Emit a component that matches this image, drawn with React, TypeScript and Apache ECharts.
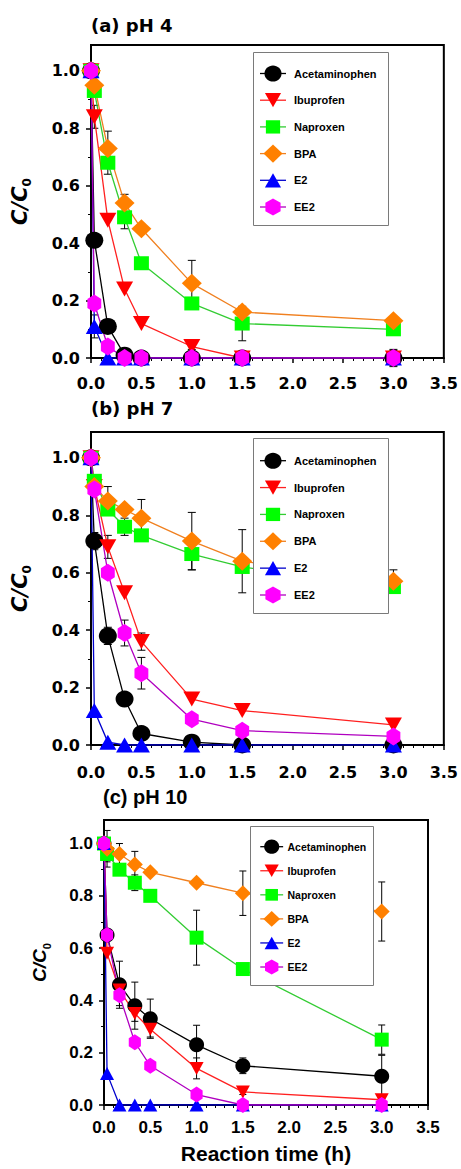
import React, { useEffect, useRef } from "react";
import * as echarts from "echarts";

// ---- data ----
const TIMES = [0, 0.033, 0.167, 0.333, 0.5, 1.0, 1.5, 3.0];
const COMPOUNDS = ["Acetaminophen", "Ibuprofen", "Naproxen", "BPA", "E2", "EE2"];
const PANEL_TITLES = ["(a) pH 4", "(b) pH 7", "(c) pH 10"];
const X_TITLE = "Reaction time (h)";
const Y_TICKS = [0, 0.2, 0.4, 0.6, 0.8, 1.0];
const Y_MINOR = [0.1, 0.3, 0.5, 0.7, 0.9];

// pH 4
const PH4_ACET = [1.0, 0.41, 0.11, 0.01, 0, 0, 0, 0];
const PH4_IBU = [1.0, 0.84, 0.48, 0.24, 0.12, 0.04, 0, 0];
const PH4_NAP = [1.0, 0.93, 0.68, 0.49, 0.33, 0.19, 0.12, 0.1];
const PH4_BPA = [1.0, 0.95, 0.73, 0.54, 0.45, 0.26, 0.16, 0.13];
const PH4_E2 = [1.0, 0.11, 0, 0, 0, 0, 0, 0];
const PH4_EE2 = [1.0, 0.19, 0.04, 0, 0, 0, 0, 0];
const PH4_ERR_ACET = [0, 0, 0.02, 0, 0, 0, 0, 0];
const PH4_ERR_IBU = [0, 0.04, 0, 0, 0, 0.01, 0, 0];
const PH4_ERR_NAP = [0, 0.02, 0.04, 0.04, 0, 0.02, 0.06, 0];
const PH4_ERR_BPA = [0, 0, 0.06, 0.03, 0, 0.08, 0, 0];
const PH4_ERR_E2 = [0, 0.04, 0, 0, 0, 0, 0, 0];
const PH4_ERR_EE2 = [0, 0, 0, 0, 0, 0, 0, 0.03];

// pH 7
const PH7_ACET = [1.0, 0.71, 0.38, 0.16, 0.04, 0.01, 0, 0];
const PH7_IBU = [1.0, 0.9, 0.69, 0.53, 0.36, 0.16, 0.12, 0.07];
const PH7_NAP = [1.0, 0.92, 0.82, 0.76, 0.73, 0.665, 0.62, 0.55];
const PH7_BPA = [1.0, 0.9, 0.85, 0.82, 0.79, 0.71, 0.64, 0.57];
const PH7_E2 = [1.0, 0.12, 0.01, 0, 0, 0, 0, 0];
const PH7_EE2 = [1.0, 0.89, 0.6, 0.39, 0.25, 0.09, 0.05, 0.03];
const PH7_ERR_ACET = [0, 0.03, 0.03, 0, 0, 0, 0, 0];
const PH7_ERR_IBU = [0, 0, 0.04, 0, 0.03, 0, 0, 0];
const PH7_ERR_NAP = [0, 0, 0.02, 0.03, 0.02, 0.055, 0.02, 0.02];
const PH7_ERR_BPA = [0, 0, 0.05, 0, 0.065, 0.1, 0.11, 0.04];
const PH7_ERR_E2 = [0, 0, 0, 0, 0, 0, 0, 0];
const PH7_ERR_EE2 = [0, 0, 0, 0.045, 0.055, 0, 0, 0];

// pH 10
const PH10_ACET = [1.0, 0.65, 0.46, 0.38, 0.33, 0.23, 0.15, 0.11];
const PH10_IBU = [1.0, 0.58, 0.44, 0.35, 0.29, 0.14, 0.05, 0.02];
const PH10_NAP = [1.0, 0.96, 0.9, 0.85, 0.8, 0.64, 0.52, 0.25];
const PH10_BPA = [1.0, 0.98, 0.96, 0.92, 0.89, 0.85, 0.81, 0.74];
const PH10_E2 = [1.0, 0.12, 0, 0, 0, 0, 0, 0];
const PH10_EE2 = [1.0, 0.65, 0.42, 0.24, 0.15, 0.04, 0, 0];
const PH10_ERR_ACET = [0, 0, 0.09, 0.09, 0.075, 0.075, 0.03, 0.08];
const PH10_ERR_IBU = [0, 0, 0, 0.03, 0.03, 0.04, 0.01, 0.01];
const PH10_ERR_NAP = [0, 0.03, 0.02, 0.03, 0, 0.105, 0, 0.056];
const PH10_ERR_BPA = [0, 0.07, 0.04, 0.05, 0, 0, 0.085, 0.113];
const PH10_ERR_E2 = [0, 0, 0, 0, 0, 0, 0, 0];
const PH10_ERR_EE2 = [0, 0, 0.04, 0, 0, 0, 0, 0];

const PANEL_VALUES = [
  [PH4_ACET, PH4_IBU, PH4_NAP, PH4_BPA, PH4_E2, PH4_EE2],
  [PH7_ACET, PH7_IBU, PH7_NAP, PH7_BPA, PH7_E2, PH7_EE2],
  [PH10_ACET, PH10_IBU, PH10_NAP, PH10_BPA, PH10_E2, PH10_EE2],
];
const PANEL_ERRORS = [
  [PH4_ERR_ACET, PH4_ERR_IBU, PH4_ERR_NAP, PH4_ERR_BPA, PH4_ERR_E2, PH4_ERR_EE2],
  [PH7_ERR_ACET, PH7_ERR_IBU, PH7_ERR_NAP, PH7_ERR_BPA, PH7_ERR_E2, PH7_ERR_EE2],
  [PH10_ERR_ACET, PH10_ERR_IBU, PH10_ERR_NAP, PH10_ERR_BPA, PH10_ERR_E2, PH10_ERR_EE2],
];

// ---- styles ----
const MARKER_COLORS = ["#000000", "#FF0000", "#00FF00", "#FF8000", "#0000FF", "#FF00FF"];
const LINE_COLORS = ["#000000", "#FF2020", "#33CC33", "#F08020", "#0000CC", "#B000C0"];
const HEX = "path://M0,-10 L8.66,-5 L8.66,5 L0,10 L-8.66,5 L-8.66,-5 Z";
const SYMBOLS = ["circle", "triangle", "rect", "diamond", "triangle", HEX];
const SHAPES = ["circle", "down", "square", "diamond", "up", "hex"];
const ROTATES = [0, 180, 0, 0, 0, 0];
const SIZES_AB = [[18, 17], [17, 15], [15, 14], [20, 19], [17, 15], [16, 18]];
const SIZES_C = [[15, 15], [14, 13], [14, 14], [16, 16], [14, 13], [14, 16]];

const GRIDS = [
  { left: 91, top: 45, width: 354, height: 313 },
  { left: 91, top: 432, width: 355, height: 313 },
  { left: 104, top: 820, width: 324, height: 285 },
];
// legend boxes: [left, top, right, bottom, firstRowY, rowStep, markerX, textX, fontSize, markerScale]
const LEGEND_BOXES = [
  [253, 52, 388, 225, 73.5, 26.7, 273, 294, 11, 1],
  [253, 438, 388, 613, 460.7, 26.86, 273, 294, 11, 1],
  [250, 826, 373, 985, 846.7, 24.06, 271.7, 287.5, 10.5, 0.88],
];
const WIDE = "'DejaVu Sans', sans-serif";
const ARIAL = "'Liberation Sans', Arial, sans-serif";

function markerShape(kind: string, cx: number, cy: number, w: number, h: number, fill: string): any {
  const style = { fill };
  const z = 101;
  if (kind === "circle") return { type: "ellipse", z, shape: { cx, cy, rx: w / 2, ry: h / 2 }, style };
  if (kind === "square") return { type: "rect", z, shape: { x: cx - w / 2, y: cy - h / 2, width: w, height: h }, style };
  let pts: number[][] = [];
  if (kind === "down") pts = [[cx - w / 2, cy - h / 2], [cx + w / 2, cy - h / 2], [cx, cy + h / 2]];
  if (kind === "up") pts = [[cx, cy - h / 2], [cx + w / 2, cy + h / 2], [cx - w / 2, cy + h / 2]];
  if (kind === "diamond") pts = [[cx, cy - h / 2], [cx + w / 2, cy], [cx, cy + h / 2], [cx - w / 2, cy]];
  if (kind === "hex")
    pts = [[cx, cy - h / 2], [cx + w / 2, cy - h / 4], [cx + w / 2, cy + h / 4], [cx, cy + h / 2], [cx - w / 2, cy + h / 4], [cx - w / 2, cy - h / 4]];
  return { type: "polygon", z, shape: { points: pts }, style };
}

export default function App() {
  const ref = useRef<HTMLDivElement>(null);
  useEffect(() => {
    if (!ref.current) return;
    const chart = echarts.init(ref.current, undefined, { renderer: "svg" });

    const title: any[] = [
      { text: PANEL_TITLES[0], left: 91, top: 16, padding: 0, textStyle: { fontFamily: WIDE, fontWeight: "bold", fontSize: 18, color: "#000" } },
      { text: PANEL_TITLES[1], left: 91, top: 399, padding: 0, textStyle: { fontFamily: WIDE, fontWeight: "bold", fontSize: 18, color: "#000" } },
      { text: PANEL_TITLES[2], left: 103, top: 787, padding: 0, textStyle: { fontFamily: ARIAL, fontWeight: "bold", fontSize: 20, color: "#000" } },
    ];

    const grid = GRIDS.map((g) => ({ ...g, show: true, borderColor: "#000", borderWidth: 2, backgroundColor: "#fff" }));

    const xAxis: any[] = GRIDS.map((_, gi) => {
      const isC = gi === 2;
      return {
        type: "value",
        gridIndex: gi,
        min: 0,
        max: 3.5,
        interval: 0.5,
        name: isC ? X_TITLE : "",
        nameLocation: "middle",
        nameGap: 38,
        nameTextStyle: { fontFamily: ARIAL, fontWeight: "bold", fontSize: 21, color: "#000" },
        axisLine: { onZero: false, lineStyle: { color: "#000", width: 2 } },
        axisTick: { length: 5, lineStyle: { color: "#000", width: 1.5 } },
        minorTick: { show: true, splitNumber: 5, length: 3, lineStyle: { color: "#000", width: 1 } },
        splitLine: { show: false },
        minorSplitLine: { show: false },
        axisLabel: {
          formatter: (v: number) => v.toFixed(1),
          fontFamily: isC ? ARIAL : WIDE,
          fontWeight: "bold",
          fontSize: isC ? 17 : 16,
          color: "#000",
          margin: gi === 0 ? 17 : gi === 1 ? 19 : 14,
        },
      };
    });

    const yAxis: any[] = [];
    GRIDS.forEach((_, gi) => {
      const isC = gi === 2;
      yAxis.push({
        type: "value",
        gridIndex: gi,
        min: 0,
        max: 1.09,
        name: "{a|C/C}{b|0}",
        nameLocation: "middle",
        nameRotate: 90,
        nameGap: isC ? 52 : 58,
        nameTextStyle: {
          rich: {
            a: { fontFamily: isC ? ARIAL : WIDE, fontStyle: "italic", fontWeight: "bold", fontSize: isC ? 19 : 21, color: "#000", lineHeight: 26 },
            b: { fontFamily: isC ? ARIAL : WIDE, fontWeight: "bold", fontSize: isC ? 11 : 12, color: "#000", verticalAlign: "bottom", lineHeight: 26 },
          },
        },
        axisLine: { show: true, onZero: false, lineStyle: { color: "#000", width: 2 } },
        axisTick: { customValues: Y_TICKS, length: 5, lineStyle: { color: "#000", width: 1.5 } },
        axisLabel: {
          customValues: Y_TICKS,
          formatter: (v: number) => v.toFixed(1),
          fontFamily: isC ? ARIAL : WIDE,
          fontWeight: "bold",
          fontSize: isC ? 17 : 16,
          color: "#000",
          margin: 11,
        },
        splitLine: { show: false },
      });
    });
    GRIDS.forEach((_, gi) => {
      yAxis.push({
        type: "value",
        gridIndex: gi,
        min: 0,
        max: 1.09,
        position: "left",
        axisLine: { show: false },
        axisTick: { show: true, customValues: Y_MINOR, length: 3, lineStyle: { color: "#000", width: 1 } },
        axisLabel: { show: false },
        splitLine: { show: false },
      });
    });

    const series: any[] = [];
    PANEL_VALUES.forEach((vals, gi) => {
      const errData: any[] = [];
      PANEL_ERRORS[gi].forEach((errs, ci) => {
        errs.forEach((e, i) => {
          if (e > 0) errData.push([TIMES[i], vals[ci][i], e]);
        });
      });
      const cap = gi === 2 ? 3.5 : 4;
      series.push({
        type: "custom",
        name: "err" + gi,
        xAxisIndex: gi,
        yAxisIndex: gi,
        z: 1,
        silent: true,
        data: errData,
        renderItem: (params: any, api: any) => {
          const x = api.value(0);
          const y = api.value(1);
          const e = api.value(2);
          const t = api.coord([x, y + e]);
          const b = api.coord([x, y - e]);
          const st = { stroke: "#000", lineWidth: 1 };
          return {
            type: "group",
            children: [
              { type: "line", shape: { x1: t[0], y1: t[1], x2: b[0], y2: b[1] }, style: st },
              { type: "line", shape: { x1: t[0] - cap, y1: t[1], x2: t[0] + cap, y2: t[1] }, style: st },
              { type: "line", shape: { x1: b[0] - cap, y1: b[1], x2: b[0] + cap, y2: b[1] }, style: st },
            ],
          };
        },
      });
      vals.forEach((arr, ci) => {
        series.push({
          type: "line",
          name: COMPOUNDS[ci],
          xAxisIndex: gi,
          yAxisIndex: gi,
          z: 2,
          data: TIMES.map((t, i) => [t, arr[i]]),
          symbol: SYMBOLS[ci],
          symbolRotate: ROTATES[ci],
          symbolKeepAspect: ci === 5,
          symbolSize: gi === 2 ? SIZES_C[ci] : SIZES_AB[ci],
          showAllSymbol: true,
          lineStyle: { color: LINE_COLORS[ci], width: 1.3 },
          itemStyle: { color: MARKER_COLORS[ci], borderWidth: 0 },
          emphasis: { disabled: true },
        });
      });
    });

    // legends drawn as graphic elements (one box per panel)
    const graphic: any[] = [];
    LEGEND_BOXES.forEach((bx) => {
      const [l, t, r, b, y0, step, mx, tx, fs, sc] = bx;
      graphic.push({
        type: "rect",
        z: 100,
        shape: { x: l + 0.5, y: t + 0.5, width: r - l, height: b - t },
        style: { fill: "#fff", stroke: "#7a7a7a", lineWidth: 1 },
      });
      COMPOUNDS.forEach((name, ci) => {
        const cy = y0 + ci * step;
        graphic.push({
          type: "line",
          z: 101,
          shape: { x1: mx - 13 * sc, y1: cy, x2: mx + 13 * sc, y2: cy },
          style: { stroke: LINE_COLORS[ci], lineWidth: 1.3 },
        });
        const sz = SIZES_AB[ci];
        graphic.push(markerShape(SHAPES[ci], mx, cy, sz[0] * sc * 0.95, sz[1] * sc * 0.95, MARKER_COLORS[ci]));
        graphic.push({
          type: "text",
          z: 102,
          x: tx,
          y: cy,
          style: {
            text: name,
            fill: "#000",
            fontFamily: "'Liberation Sans', Arial, sans-serif",
            fontWeight: "bold",
            fontSize: fs,
            verticalAlign: "middle",
            align: "left",
          },
        });
      });
    });

    chart.setOption({
      animation: false,
      backgroundColor: "#fff",
      title,
      grid,
      xAxis,
      yAxis,
      graphic,
      series,
    });
    return () => chart.dispose();
  }, []);
  return (
    <div
      ref={ref}
      style={{ position: "absolute", left: 0, top: 0, width: 461, height: 1169, background: "#fff" }}
    />
  );
}
